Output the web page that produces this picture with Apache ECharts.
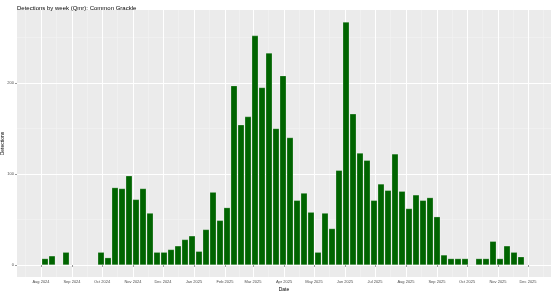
<!DOCTYPE html>
<html><head><meta charset="utf-8">
<script src="https://cdn.jsdelivr.net/npm/echarts@6/dist/echarts.min.js"></script>
<style>html,body{margin:0;padding:0;background:#fff}#c{width:553px;height:291px}</style>
</head><body><div id="c"></div>
<script>
const titleText = 'Detections by week (Qmr): Common Grackle';
const weekStarts = [
 '2024-08-05','2024-08-12','2024-08-19','2024-08-26','2024-09-02','2024-09-09','2024-09-16','2024-09-23',
 '2024-09-30','2024-10-07','2024-10-14','2024-10-21','2024-10-28','2024-11-04','2024-11-11','2024-11-18',
 '2024-11-25','2024-12-02','2024-12-09','2024-12-16','2024-12-23','2024-12-30','2025-01-06','2025-01-13',
 '2025-01-20','2025-01-27','2025-02-03','2025-02-10','2025-02-17','2025-02-24','2025-03-03','2025-03-10',
 '2025-03-17','2025-03-24','2025-03-31','2025-04-07','2025-04-14','2025-04-21','2025-04-28','2025-05-05',
 '2025-05-12','2025-05-19','2025-05-26','2025-06-02','2025-06-09','2025-06-16','2025-06-23','2025-06-30',
 '2025-07-07','2025-07-14','2025-07-21','2025-07-28','2025-08-04','2025-08-11','2025-08-18','2025-08-25',
 '2025-09-01','2025-09-08','2025-09-15','2025-09-22','2025-09-29','2025-10-06','2025-10-13','2025-10-20',
 '2025-10-27','2025-11-03','2025-11-10','2025-11-17','2025-11-24'
];
const detections = [
 7,10,null,14,null,null,null,null,
 14,8,85,84,98,72,84,57,
 14,14,17,21,28,32,15,39,
 80,49,63,197,154,163,252,195,
 233,150,208,140,71,79,58,14,
 57,40,104,267,166,123,115,71,
 89,82,122,81,62,77,71,74,
 53,11,7,7,7,null,7,7,
 26,7,21,14,9
];
const monthBreaks = ['2024-07-01','2024-08-01','2024-09-01','2024-10-01','2024-11-01','2024-12-01','2025-01-01',
 '2025-02-01','2025-03-01','2025-04-01','2025-05-01','2025-06-01','2025-07-01','2025-08-01','2025-09-01',
 '2025-10-01','2025-11-01','2025-12-01','2026-01-01'];
const yBreaks = [0,100,200];
const yMinorBreaks = [50,150,250];
const monthNames = ['Jan','Feb','Mar','Apr','May','Jun','Jul','Aug','Sep','Oct','Nov','Dec'];

const ts = s => Date.parse(s + 'T00:00:00Z');
const xMin = ts('2024-07-08'), xMax = ts('2025-12-24');
const majorX = monthBreaks.map(ts).filter(v => v >= xMin && v <= xMax);
const allX = monthBreaks.map(ts);
const minorX = [];
for (let i = 0; i + 1 < allX.length; i++) { const m = (allX[i] + allX[i+1]) / 2; if (m >= xMin && m <= xMax) minorX.push(m); }
const barData = weekStarts.map((d, i) => [ts(d), detections[i]]).filter(p => p[1] !== null);

const font = 'Liberation Sans';
const yMin = -13.2, yMax = 280.2;
const chart = echarts.init(document.getElementById('c'), null, {renderer: 'canvas'});
chart.setOption({
  animation: false,
  backgroundColor: '#ffffff',
  title: {text: titleText, left: 12, top: 0, textStyle: {fontFamily: font, fontSize: 6, fontWeight: 'normal', color: '#000'}},
  grid: [{left: 17, top: 10, width: 534, height: 267, show: true, backgroundColor: '#EBEBEB', borderWidth: 0,
          containLabel: false, outerBoundsMode: 'none'}],
  xAxis: [
    {type: 'value', min: xMin, max: xMax, gridIndex: 0,
     name: 'Date', nameLocation: 'middle', nameGap: 10, nameMoveOverlap: false,
     nameTextStyle: {fontFamily: font, fontSize: 5, color: '#000'},
     axisLine: {show: false},
     axisTick: {show: true, length: 2, lineStyle: {color: '#333', width: 0.5}, customValues: majorX},
     axisLabel: {customValues: majorX, fontFamily: font, fontSize: 4, color: '#4D4D4D', margin: 3,
       formatter: v => { const d = new Date(v); return monthNames[d.getUTCMonth()] + ' ' + d.getUTCFullYear(); }},
     splitLine: {show: true, lineStyle: {color: '#ffffff', width: 1}}, z: 1},
    {type: 'value', min: xMin, max: xMax, gridIndex: 0, position: 'bottom',
     axisLine: {show: false}, axisTick: {show: false, customValues: minorX},
     axisLabel: {show: false, customValues: minorX},
     splitLine: {show: true, lineStyle: {color: '#F5F5F5', width: 0.5}}, z: 0}
  ],
  yAxis: [
    {type: 'value', min: yMin, max: yMax, gridIndex: 0,
     name: 'Detections', nameLocation: 'middle', nameGap: 12, nameRotate: 90, nameMoveOverlap: false,
     nameTextStyle: {fontFamily: font, fontSize: 5, color: '#000'},
     axisLine: {show: false},
     axisTick: {show: true, length: 2, lineStyle: {color: '#333', width: 0.5}, customValues: yBreaks},
     axisLabel: {customValues: yBreaks, fontFamily: font, fontSize: 4, color: '#4D4D4D', margin: 3},
     splitLine: {show: true, lineStyle: {color: '#ffffff', width: 1}}, z: 1},
    {type: 'value', min: yMin, max: yMax, gridIndex: 0,
     axisLine: {show: false}, axisTick: {show: false, customValues: yMinorBreaks},
     axisLabel: {show: false, customValues: yMinorBreaks},
     splitLine: {show: true, lineStyle: {color: '#F5F5F5', width: 0.5}}, z: 0}
  ],
  series: [{
    type: 'bar', xAxisIndex: 0, yAxisIndex: 0, data: barData, barWidth: 6.4,
    itemStyle: {color: '#006400', borderColor: 'rgba(255,255,255,0.6)', borderWidth: 0.4},
    z: 5
  }]
});
</script></body></html>
